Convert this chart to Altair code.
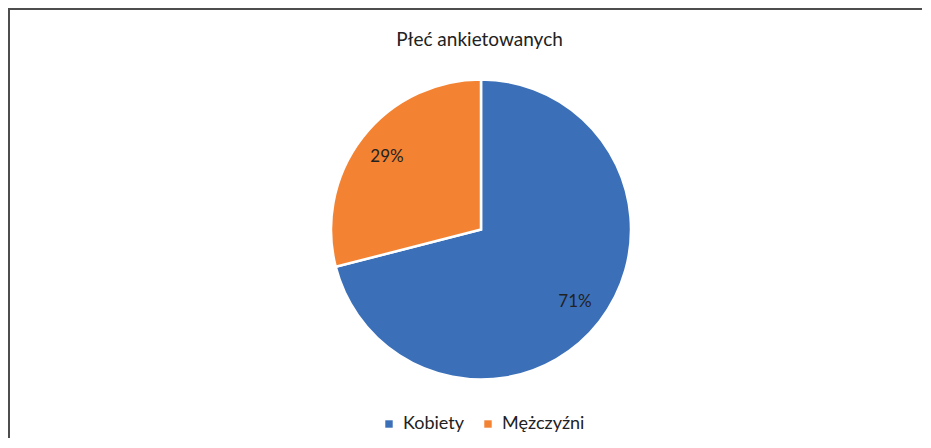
import altair as alt
import pandas as pd

categories = ["Kobiety", "Mężczyźni"]
values = [71, 29]
labels = ["71%", "29%"]
colors = ["#3B70B9", "#F38333"]
title_text = "Płeć ankietowanych"

df = pd.DataFrame({"cat": categories, "val": values, "label": labels, "ord": [0, 1]})

W, H = 914, 430
CX, CY = 473, 221.5
FONT = "Lato"

base = alt.Chart(df).encode(
    theta=alt.Theta("val:Q", stack=True),
    order=alt.Order("ord:Q"),
)

pie = base.mark_arc(radius=150, stroke="white", strokeWidth=2.5).encode(
    x=alt.value(CX), y=alt.value(CY),
    color=alt.Color("cat:N", sort=categories,
                    scale=alt.Scale(domain=categories, range=colors),
                    legend=alt.Legend(title=None, orient="none", legendX=372, legendY=407,
                                      direction="horizontal", symbolType="square",
                                      symbolSize=55, symbolStrokeWidth=0,
                                      labelFont=FONT, labelFontSize=18, labelColor="#222222",
                                      columnPadding=14, labelOffset=5)),
)

text = base.mark_text(radius=119, font=FONT, fontSize=17, color="#222222").encode(
    x=alt.value(CX), y=alt.value(CY), text="label:N"
)

title = alt.Chart(pd.DataFrame({"t": [title_text]})).mark_text(
    font=FONT, fontSize=19, color="#222222", baseline="middle"
).encode(x=alt.value(471.5), y=alt.value(32), text="t:N")

top_rule = alt.Chart(pd.DataFrame({"a": [0]})).mark_rule(color="#4d4d4d", strokeWidth=2).encode(
    x=alt.value(0), x2=alt.value(W), y=alt.value(1)
)
left_rule = alt.Chart(pd.DataFrame({"a": [0]})).mark_rule(color="#4d4d4d", strokeWidth=2).encode(
    x=alt.value(1), y=alt.value(0), y2=alt.value(H)
)

chart = alt.layer(pie, text, title, top_rule, left_rule).properties(
    width=W, height=H, padding=0, autosize=alt.AutoSizeParams(type="none")
).configure_view(stroke=None)

chart.save("out.html", embed_options={"renderer": "svg", "actions": False})
